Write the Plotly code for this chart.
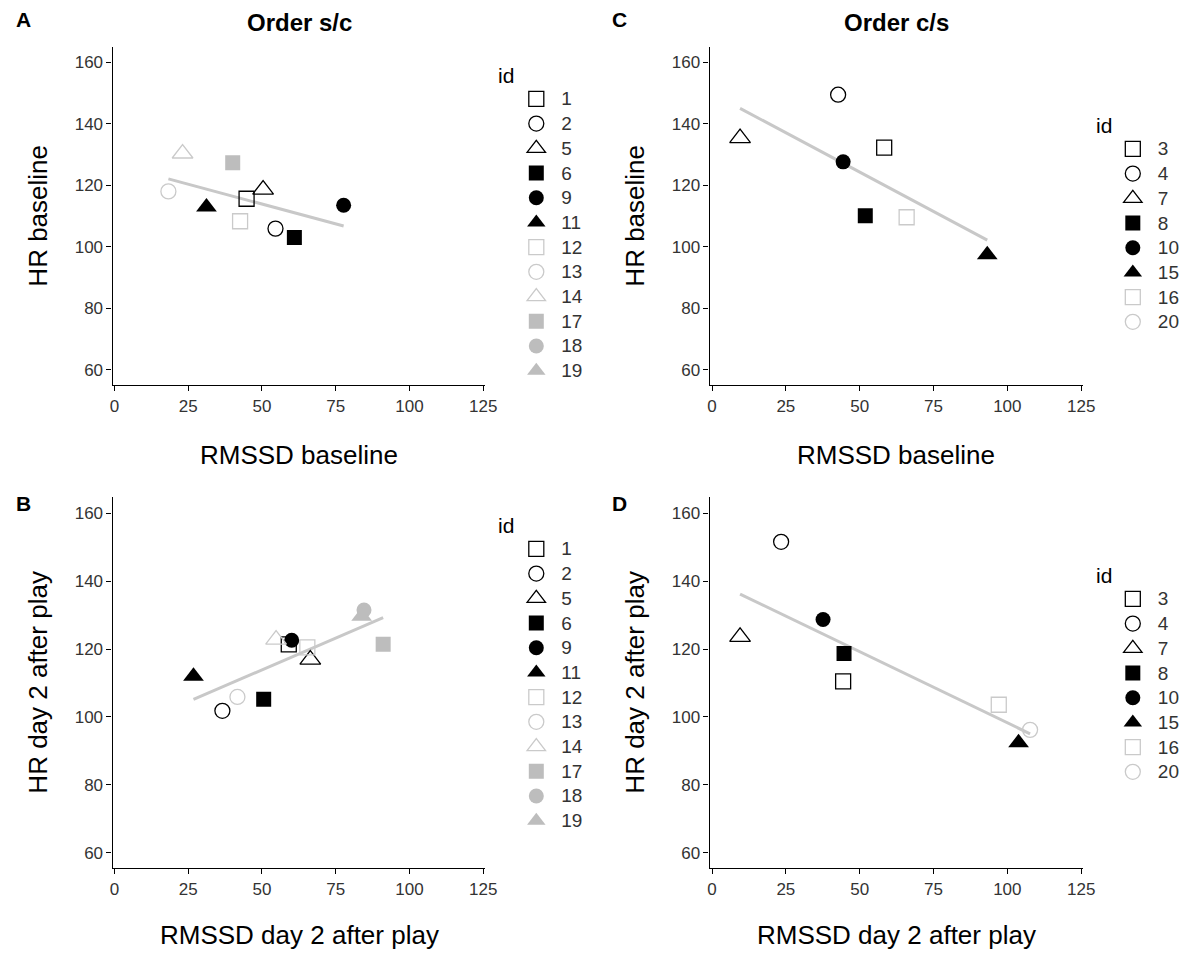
import numpy as np
import plotly.graph_objects as go

# ---------------- data ----------------
ids_sc = ["1", "2", "5", "6", "9", "11", "12", "13", "14", "17", "18", "19"]
ids_cs = ["3", "4", "7", "8", "10", "15", "16", "20"]

# Panel A: Order s/c, baseline
a_rmssd = [44.8, 54.6, 50.4, 61.0, 77.7, 31.2, 42.6, 18.3, 23.1, 40.1, None, None]
a_hr = [115.6, 105.9, 118.6, 103.0, 113.5, 112.9, 108.3, 118.0, 130.3, 127.3, None, None]
# Panel B: Order s/c, day 2 after play
b_rmssd = [59.1, 36.6, 66.4, 50.6, 60.1, 26.8, 65.4, 41.7, 54.8, 91.1, 84.6, 83.8]
b_hr = [121.4, 101.8, 116.9, 105.2, 122.6, 112.0, 120.5, 105.9, 122.8, 121.4, 131.5, 129.7]
# Panel C: Order c/s, baseline
c_rmssd = [58.3, 42.7, 9.5, 51.9, 44.4, 93.2, 65.9, None]
c_hr = [132.2, 149.4, 135.3, 110.1, 127.6, 97.4, 109.6, None]
# Panel D: Order c/s, day 2 after play
d_rmssd = [44.4, 23.4, 9.5, 44.7, 37.6, 103.8, 97.1, 107.7]
d_hr = [110.5, 151.6, 123.6, 118.7, 128.7, 92.4, 103.6, 96.2]

x_ticks = [0, 25, 50, 75, 100, 125]
y_ticks = [60, 80, 100, 120, 140, 160]

# ---------------- styles ----------------
BLACK = "#000000"
LIGHT = "#cacaca"
GRAY = "#bdbdbd"
LINE = "#c8c8c8"
FONT = "Liberation Sans, Arial, sans-serif"
TXT = "#333333"

style_sc = [
    ("square-open", BLACK), ("circle-open", BLACK), ("triangle-up-open", BLACK),
    ("square", BLACK), ("circle", BLACK), ("triangle-up", BLACK),
    ("square-open", LIGHT), ("circle-open", LIGHT), ("triangle-up-open", LIGHT),
    ("square", GRAY), ("circle", GRAY), ("triangle-up", GRAY),
]
style_cs = style_sc[:8]

# page has an 8px body margin: work in page pixels, convert to figure paper coords.
# The figure is made a little wider than the window (overflow hidden) so the
# right-hand legends are not pushed left by plotly's fit-to-width rule.
OFF = 8
W, H = 1195 - OFF + 24, 953 - OFF


def px_x(p):
    return (p - OFF) / W


def px_y(p):
    return 1 - (p - OFF) / H


panels = [
    dict(x=a_rmssd, y=a_hr, ids=ids_sc, st=style_sc, xa="x", ya="y", lg="legend",
         dom_x=(111, 488), dom_y=(46.7, 385), xr=[-0.6, 125.5], yr=[55.1, 165.0]),
    dict(x=b_rmssd, y=b_hr, ids=ids_sc, st=style_sc, xa="x2", ya="y2", lg="legend2",
         dom_x=(111, 488), dom_y=(496.7, 868), xr=[-0.6, 125.5], yr=[55.5, 164.9]),
    dict(x=c_rmssd, y=c_hr, ids=ids_cs, st=style_cs, xa="x3", ya="y3", lg="legend3",
         dom_x=(716, 1094), dom_y=(46.7, 385), xr=[-0.8, 125.5], yr=[55.1, 165.0]),
    dict(x=d_rmssd, y=d_hr, ids=ids_cs, st=style_cs, xa="x4", ya="y4", lg="legend4",
         dom_x=(716, 1094), dom_y=(496.7, 868), xr=[-0.8, 125.5], yr=[55.5, 164.9]),
]

fig = go.Figure()

for p in panels:
    # regression line fitted from the data
    pts = [(v, w) for v, w in zip(p["x"], p["y"]) if v is not None and w is not None]
    xs = np.array([q[0] for q in pts], float)
    ys = np.array([q[1] for q in pts], float)
    k, b = np.polyfit(xs, ys, 1)
    lx = np.array([xs.min(), xs.max()])
    fig.add_trace(go.Scatter(x=lx, y=k * lx + b, mode="lines", xaxis=p["xa"], yaxis=p["ya"],
                             line=dict(color=LINE, width=3), showlegend=False, hoverinfo="skip"))
    for i, (idv, (sym, col)) in enumerate(zip(p["ids"], p["st"])):
        size = 18 if "triangle" in sym else 15
        openm = sym.endswith("-open")
        fig.add_trace(go.Scatter(
            x=[p["x"][i]], y=[p["y"][i]], mode="markers",
            name=f'<span style="font-size:19px">{idv}</span>',
            xaxis=p["xa"], yaxis=p["ya"], legend=p["lg"],
            marker=dict(symbol=sym, size=size, color=col,
                        line=dict(color=col, width=1.3 if openm else 0)),
        ))

layout = dict(
    width=W, height=H, margin=dict(l=0, r=0, t=0, b=0),
    paper_bgcolor="white", plot_bgcolor="white",
    font=dict(family=FONT, color=TXT),
    showlegend=True,
)

for j, p in enumerate(panels):
    sfx = "" if j == 0 else str(j + 1)
    layout["xaxis" + sfx] = dict(
        domain=[px_x(p["dom_x"][0]), px_x(p["dom_x"][1])], range=p["xr"],
        anchor="y" + sfx, tickvals=x_ticks, showline=True, linecolor="black", linewidth=1.3,
        ticks="outside", ticklen=5, tickwidth=1.3, tickcolor="black", showgrid=False,
        zeroline=False, tickfont=dict(size=17, color=TXT, family=FONT),
    )
    layout["yaxis" + sfx] = dict(
        domain=[px_y(p["dom_y"][1]), px_y(p["dom_y"][0])], range=p["yr"],
        anchor="x" + sfx, tickvals=y_ticks, showline=True, linecolor="black", linewidth=1.3,
        ticks="outside", ticklen=5, tickwidth=1.3, tickcolor="black", showgrid=False,
        zeroline=False, tickfont=dict(size=17, color=TXT, family=FONT),
    )

# (legend left, legend top) in page pixels
legend_pos = {"legend": (515, 81.5), "legend2": (515, 531.5),
              "legend3": (1119.5, 131.5), "legend4": (1119.5, 581.5)}
for name, (lx, ly) in legend_pos.items():
    layout[name] = dict(x=px_x(lx), y=px_y(ly), xanchor="left", yanchor="top",
                        xref="paper", yref="paper", bgcolor="rgba(0,0,0,0)",
                        font=dict(size=16.7, color=TXT, family=FONT), itemwidth=40,
                        traceorder="normal")

fig.update_layout(**layout)

ann = []


def add_text(text, x, y, size, bold=False, angle=0, xanchor="center", color=TXT):
    ann.append(dict(text=f"<b>{text}</b>" if bold else text, x=px_x(x), y=px_y(y),
                    xref="paper", yref="paper", showarrow=False, xanchor=xanchor,
                    yanchor="middle", textangle=angle,
                    font=dict(size=size, family=FONT, color=color)))


# panel letters and titles
add_text("A", 11, 20, 21, bold=True, xanchor="left", color="black")
add_text("B", 11, 503, 21, bold=True, xanchor="left", color="black")
add_text("C", 615, 20, 21, bold=True, xanchor="left", color="black")
add_text("D", 615, 503, 21, bold=True, xanchor="left", color="black")
add_text("Order s/c", 300, 22, 24, bold=True, color="black")
add_text("Order c/s", 905, 22, 24, bold=True, color="black")
# axis titles
add_text("RMSSD baseline", 300, 455, 26, color="black")
add_text("RMSSD baseline", 905, 455, 26, color="black")
add_text("RMSSD day 2 after play", 300, 935, 26, color="black")
add_text("RMSSD day 2 after play", 905, 935, 26, color="black")
add_text("HR baseline", 35, 216, 26, angle=-90, color="black")
add_text("HR baseline", 640, 216, 26, angle=-90, color="black")
add_text("HR day 2 after play", 35, 682, 26, angle=-90, color="black")
add_text("HR day 2 after play", 640, 682, 26, angle=-90, color="black")
# legend titles
add_text("id", 500, 75, 21, xanchor="left", color="black")
add_text("id", 500, 525, 21, xanchor="left", color="black")
add_text("id", 1106, 125, 21, xanchor="left", color="black")
add_text("id", 1106, 575, 21, xanchor="left", color="black")

fig.update_layout(annotations=ann)
fig.write_html(
    "out.html",
    post_script="document.documentElement.style.overflow='hidden';"
                "document.body.style.overflow='hidden';",
)
